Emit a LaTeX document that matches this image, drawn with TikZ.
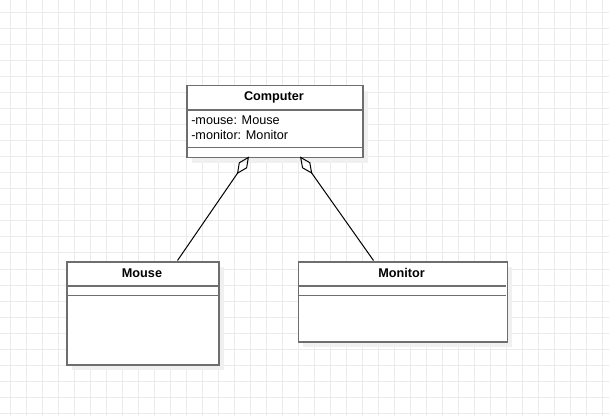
\documentclass[tikz,border=0pt]{standalone}
\usepackage{fontspec}
\setmainfont{Liberation Sans}
\usetikzlibrary{arrows.meta}
\definecolor{gridc}{HTML}{EBEBEB}
\definecolor{boxc}{HTML}{6E6E6E}
\definecolor{shadowc}{HTML}{F0F0F0}
\begin{document}
\begin{tikzpicture}[x=0.75pt,y=-0.75pt,
  umlbox/.style={draw=boxc,line width=1.5pt*0.75,fill=white,rectangle,inner sep=0pt,anchor=north west},
  shadowbox/.style={fill=shadowc,draw=none,rectangle,inner sep=0pt,anchor=north west},
  sep/.style={draw=boxc,line width=1.5pt*0.75},
  title/.style={font=\fontsize{9.5pt}{10.5pt}\selectfont\bfseries,inner sep=0pt},
  attr/.style={font=\fontsize{9.5pt}{10.5pt}\selectfont,inner sep=0pt,anchor=west},
  aggr/.style={draw=black,line width=0.75pt,{Diamond[open,length=16pt,width=7.5pt]}-}
]
\useasboundingbox (0,0) rectangle (609,416);
\fill[white] (0,0) rectangle (609,416);
% grid
\foreach \i in {0,...,37} {\draw[gridc,line width=0.75pt] (10+16*\i,0) -- (10+16*\i,416);}
\foreach \j in {0,...,25} {\draw[gridc,line width=0.75pt] (0,13+16*\j) -- (609,13+16*\j);}
% shadows
\node[shadowbox,minimum width=132pt,minimum height=54pt] (cs) at (192,91) {};
\node[shadowbox,minimum width=114pt,minimum height=77.25pt] (ms) at (72,267) {};
\node[shadowbox,minimum width=156.75pt,minimum height=60pt] (ns) at (303,267) {};
% Computer
\node[umlbox,minimum width=132pt,minimum height=54pt] (comp) at (186,85) {};
\draw[sep] (186,110) -- (362,110);
\draw[sep] (186,147.5) -- (362,147.5);
\node[title] (compt) at (274,97.5) {Computer};
\node[attr] (a1) at (191,120.5) {-mouse: Mouse};
\node[attr] (a2) at (191,134.5) {-monitor: Monitor};
% Mouse
\node[umlbox,minimum width=114pt,minimum height=77.25pt] (mouse) at (66,261) {};
\draw[sep] (66,286) -- (218,286);
\draw[sep] (66,295.7) -- (218,295.7);
\node[title] (mouset) at (142,273) {Mouse};
% Monitor
\node[umlbox,minimum width=156.75pt,minimum height=60pt] (monitor) at (297.5,261) {};
\draw[sep] (297.5,286) -- (506,286);
\draw[sep] (297.5,295.7) -- (506,295.7);
\node[title] (monitort) at (401.5,273) {Monitor};
% connectors
\coordinate (c1) at (249,156.5);
\coordinate (c2) at (300,156.5);
\coordinate (m1) at (177.5,260.5);
\coordinate (n1) at (373.5,260.5);
\draw[aggr] (c1) -- (m1);
\draw[aggr] (c2) -- (n1);
\end{tikzpicture}
\end{document}
